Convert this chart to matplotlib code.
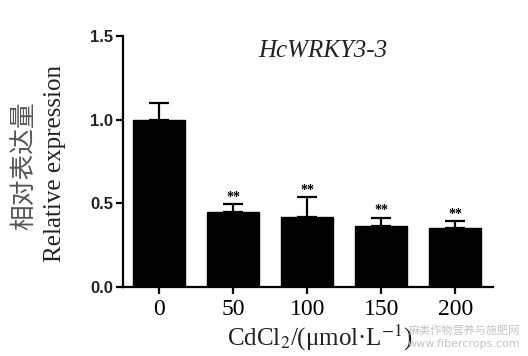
import numpy as np
import matplotlib
matplotlib.use('Agg')
import matplotlib.pyplot as plt

plt.rcParams['mathtext.fontset'] = 'stix'

# data
conc = ['0', '50', '100', '150', '200']
expr = [1.0, 0.45, 0.42, 0.365, 0.352]
err = [0.10, 0.045, 0.115, 0.048, 0.042]
sig = ['', '**', '**', '**', '**']
yticks = [0.0, 0.5, 1.0, 1.5]

fig = plt.figure(figsize=(5.28, 3.56), dpi=100)
ax = fig.add_axes([0.233, 0.194, 0.701, 0.705])

x = np.arange(len(conc))
ax.bar(x, expr, width=0.7, color='black', edgecolor='black', zorder=2)
ax.errorbar(x, expr, yerr=[np.zeros(len(err)), err], fmt='none', ecolor='black',
            elinewidth=1.6, capsize=7, capthick=1.6, zorder=3)

# significance stars above the caps
for i in range(len(conc)):
    if sig[i]:
        ax.text(x[i], expr[i] + err[i] + 0.003, sig[i], ha='center', va='bottom',
                fontsize=10, fontweight='bold', family='Liberation Serif')

ax.set_xlim(-0.49, 4.51)
ax.set_ylim(0, 1.5)
ax.set_xticks(x)
ax.set_xticklabels(conc, fontsize=17, family='Liberation Serif')
ax.set_yticks(yticks)
ax.set_yticklabels(['%.1f' % v for v in yticks], fontsize=12, fontweight='bold',
                   family='Liberation Sans', color='#222222')

for s in ['top', 'right']:
    ax.spines[s].set_visible(False)
for s in ['left', 'bottom']:
    ax.spines[s].set_linewidth(1.6)
ax.tick_params(axis='y', direction='out', length=5, width=1.6, pad=2)
ax.tick_params(axis='x', direction='out', length=5, width=1.6, pad=4)

# title and axis labels
ax.text(0.54, 0.94, 'HcWRKY3-3', transform=ax.transAxes, ha='center', va='center',
        fontsize=18, style='italic', family='Liberation Serif', color='#222222')
fig.text(0.047, 0.535, '相对表达量', rotation=90, ha='center', va='center',
         fontsize=18.5, family=['Noto Sans CJK SC', 'DejaVu Sans'], color='#555555')
fig.text(0.104, 0.54, 'Relative expression', rotation=90, ha='center', va='center',
         fontsize=18, family='Liberation Serif', color='#222222')
fig.text(0.605, 0.05, 'CdCl$_2$/(μmol·L$^{-1}$)', ha='center', va='center',
         fontsize=18, family='Liberation Serif', color='#222222')

# watermark
fig.text(0.985, 0.072, '麻类作物营养与施肥网', ha='right', va='center', fontsize=8,
         family=['Noto Sans CJK SC', 'DejaVu Sans'], color='#c4c4c4')
fig.text(0.985, 0.035, 'www.fibercrops.com', ha='right', va='center', fontsize=8,
         family='DejaVu Sans', color='#c4c4c4')

fig.savefig('out.png', dpi=100)
